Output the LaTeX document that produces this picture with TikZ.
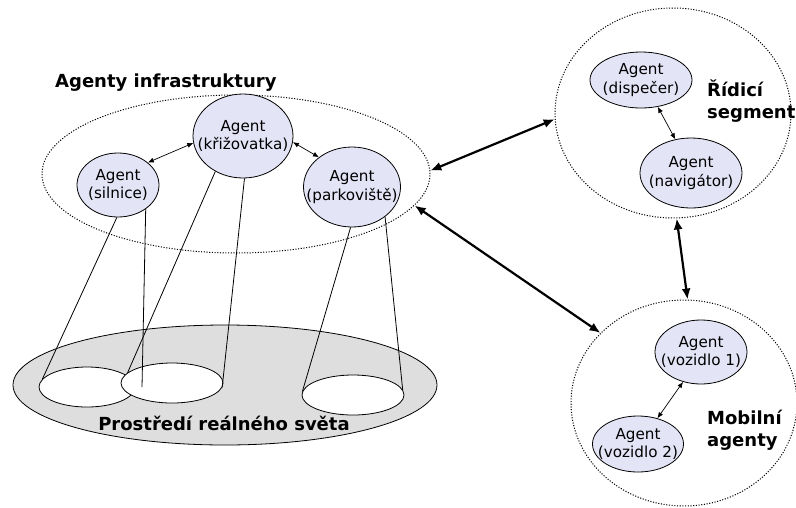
\documentclass[tikz,border=0pt]{standalone}
\usepackage{fontspec}
\setmainfont{DejaVu Sans}
\usetikzlibrary{arrows.meta,shapes.geometric}
\pgfdeclarelayer{bg}
\pgfdeclarelayer{mid}
\pgfsetlayers{bg,mid,main}
\definecolor{agentfill}{RGB}{228,228,247}
\definecolor{worldfill}{RGB}{222,222,222}
\tikzset{
  agent/.style={ellipse, draw, line width=0.8pt, fill=agentfill, inner sep=0pt},
  agtext/.style={align=center, font=\fontsize{15.2}{18.5}\selectfont, inner sep=0pt},
  grp/.style={ellipse, draw, line width=1pt, dash pattern=on 1.1pt off 1.6pt, inner sep=0pt},
  hole/.style={ellipse, draw, line width=0.8pt, fill=white, inner sep=0pt},
  lbl/.style={align=left, font=\fontsize{18}{22}\selectfont\bfseries, inner sep=0pt},
  thin/.style={line width=0.7pt, {Latex[length=6pt,width=5pt]}-{Latex[length=6pt,width=5pt]}},
  thick/.style={line width=2.2pt, {Latex[length=11pt,width=9pt]}-{Latex[length=11pt,width=9pt]}},
  proj/.style={line width=0.8pt}
}
\begin{document}
\begin{tikzpicture}[x=1pt,y=-1pt]
\useasboundingbox (0,0) rectangle (796,507);
\begin{pgfonlayer}{bg}
% infrastructure group
\node[grp, minimum width=388, minimum height=158] (inf) at (236,174) {};
% real world
\node[ellipse, draw, line width=0.8pt, fill=worldfill, inner sep=0pt, minimum width=424, minimum height=120] (world) at (225,385) {};
\node[hole, minimum width=96, minimum height=40] (w1) at (87,387) {};
\node[hole, minimum width=102, minimum height=40] (w2) at (172,383) {};
\node[hole, minimum width=102, minimum height=40] (w3) at (353,395) {};
\end{pgfonlayer}
\node[lbl, anchor=west] (infl) at (55,83) {Agenty infrastruktury};
\node[lbl] (worldl) at (224,423) {Prostředí reálného světa};
% agents
\node[agent, minimum width=82, minimum height=64, label={[agtext]center:Agent\\(silnice)}] (sil) at (118,185) {};
\node[agent, minimum width=100, minimum height=84, label={[agtext]center:Agent\\(křižovatka)}] (kriz) at (243,136) {};
\node[agent, minimum width=97, minimum height=80, label={[agtext]center:Agent\\(parkoviště)}] (park) at (352,187) {};
% projections
\coordinate (e1) at (142,387);
\begin{pgfonlayer}{mid}
\draw[proj] (sil.-92) -- (w1.170);
\draw[proj] (sil.-41) -- (e1);
\draw[proj] (kriz.-128) -- (w2.167);
\draw[proj] (kriz.-88) -- (w2.-5);
\draw[proj] (park.-92) -- (w3.176);
\draw[proj] (park.-42) -- (w3.6);
\end{pgfonlayer}
\draw[thin] (sil.37) -- (kriz.188);
\draw[thin] (kriz.-7) -- (park.138);
% control segment
\node[grp, minimum width=236, minimum height=210] (rid) at (673,113) {};
\node[agent, minimum width=102, minimum height=56, label={[agtext]center:Agent\\(dispečer)}] (disp) at (641,80) {};
\node[agent, minimum width=102, minimum height=70, label={[agtext]center:Agent\\(navigátor)}] (nav) at (691,173) {};
\node[lbl, anchor=west] (ridl) at (707,101) {Řídicí\\segment};
\draw[thin] (disp.-58) -- (nav.115);
% mobile agents
\node[grp, minimum width=226, minimum height=206] (mob) at (684,403) {};
\node[agent, minimum width=92, minimum height=64, label={[agtext]center:Agent\\(vozidlo 1)}] (v1) at (701,352) {};
\node[agent, minimum width=91, minimum height=56, label={[agtext]center:Agent\\(vozidlo 2)}] (v2) at (638,444) {};
\node[lbl, anchor=west] (mobl) at (707,430) {Mobilní\\agenty};
\draw[thin] (v1.239) -- (v2.53);
% thick links
\draw[thick] (inf.1) -- (rid.183);
\draw[thick] (inf.-10) -- (mob.140);
\draw[thick] (rid.-88) -- (mob.88);
\end{tikzpicture}
\end{document}
